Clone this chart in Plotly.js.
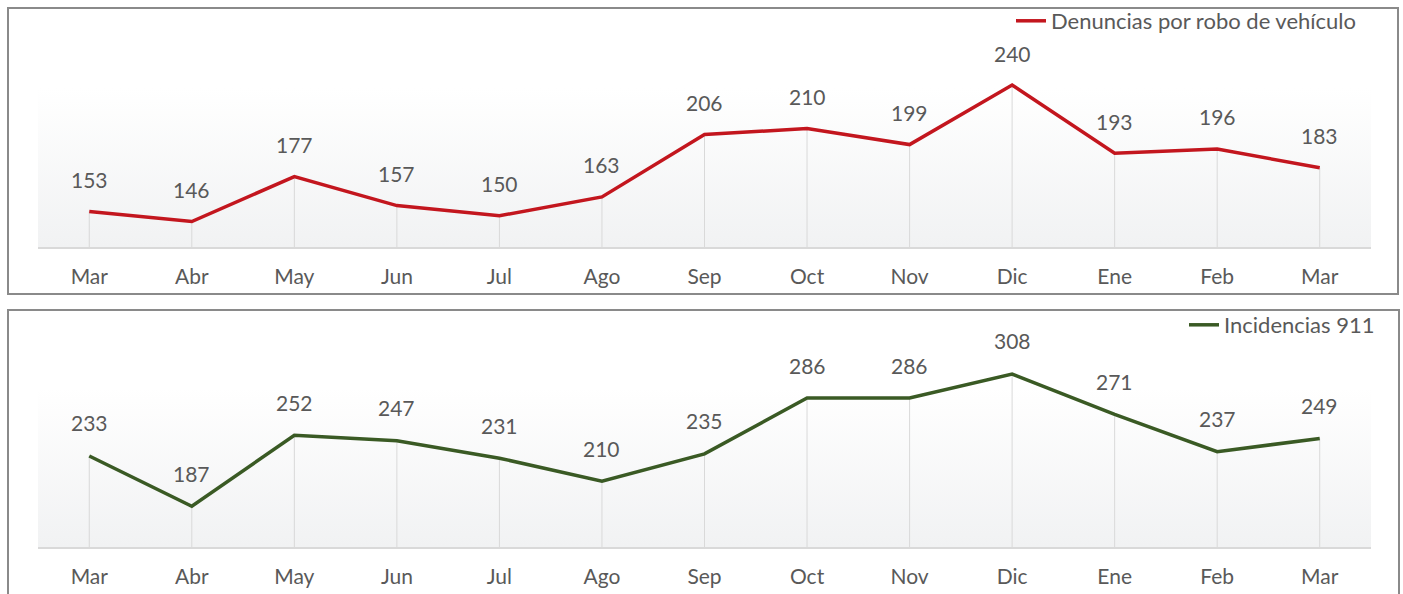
<!DOCTYPE html>
<html>
<head>
<meta charset="utf-8">
<script src="https://cdn.plot.ly/plotly-3.0.1.min.js"></script>
<style>html,body{margin:0;padding:0;background:#fff;}#chart{width:1403px;height:594px;}</style>
</head>
<body>
<div id="chart"></div>
<script>
const months = ['Mar','Abr','May','Jun','Jul','Ago','Sep','Oct','Nov','Dic','Ene','Feb','Mar'];
const denuncias = [153,146,177,157,150,163,206,210,199,240,193,196,183];
const incidencias = [233,187,252,247,231,210,235,286,286,308,271,237,249];
const seriesNames = ['Denuncias por robo de vehículo','Incidencias 911'];

const W = 1403, H = 594;
const px = v => v / W;
const py = v => 1 - v / H;

const FONT = 'Lato, "Open Sans", sans-serif';
const FS = 21;
const TXT = '#595959';
const idx = months.map((m, i) => i);

const topRange = [128.5, 271.0];
const botRange = [149.77, 339.1];

function dropLines(vals, base, xa, ya) {
  const x = [], y = [];
  vals.forEach((v, i) => { x.push(i, i, null); y.push(base, v, null); });
  return {x, y, xaxis: xa, yaxis: ya, mode: 'lines', line: {color: '#d9d9d9', width: 1},
    hoverinfo: 'skip', showlegend: false};
}

const traces = [
  dropLines(denuncias, topRange[0], 'x', 'y'),
  dropLines(incidencias, botRange[0], 'x2', 'y2'),
  {x: idx, y: denuncias, xaxis: 'x', yaxis: 'y', mode: 'lines', name: seriesNames[0],
   line: {color: '#C3161E', width: 3.5}, legend: 'legend'},
  {x: idx, y: incidencias, xaxis: 'x2', yaxis: 'y2', mode: 'lines', name: seriesNames[1],
   line: {color: '#3A5A24', width: 3.5}, legend: 'legend2'}
];

const annotations = [];
denuncias.forEach((v, i) => annotations.push({x: i, y: v, xref: 'x', yref: 'y', text: String(v),
  showarrow: false, yshift: 32, yanchor: 'middle', font: {family: FONT, size: FS, color: TXT}}));
incidencias.forEach((v, i) => annotations.push({x: i, y: v, xref: 'x2', yref: 'y2', text: String(v),
  showarrow: false, yshift: 33, yanchor: 'middle', font: {family: FONT, size: FS, color: TXT}}));

const gradSvg = "<svg xmlns='http://www.w3.org/2000/svg' width='100' height='100' preserveAspectRatio='none'><defs><linearGradient id='g' x1='0' y1='0' x2='0' y2='1'><stop offset='0' stop-color='#ffffff'/><stop offset='1' stop-color='#f1f2f3'/></linearGradient></defs><rect width='100' height='100' fill='url(#g)'/></svg>";
const gradSrc = 'data:image/svg+xml;base64,' + btoa(gradSvg);

const xDom = [px(38), px(1371)];
const yDomTop = [py(247), py(40)];
const yDomBot = [py(547), py(340)];
const gTop = [py(247), py(88)];
const gBot = [py(547), py(388)];

function xAxis(anchor) {
  return {domain: xDom, range: [-0.5, 12.5], anchor: anchor, tickvals: idx, ticktext: months,
    showgrid: false, zeroline: false, showline: true, linecolor: '#d9d9d9', linewidth: 1.5,
    ticks: '', ticklabelstandoff: 10, tickfont: {family: FONT, size: FS, color: TXT}, fixedrange: true};
}
function yAxis(anchor, dom, rng) {
  return {domain: dom, range: rng, anchor: anchor, visible: false, showgrid: false, zeroline: false, fixedrange: true};
}

const layout = {
  width: W, height: H,
  margin: {l: 0, r: 0, t: 0, b: 0},
  paper_bgcolor: '#ffffff', plot_bgcolor: 'rgba(0,0,0,0)',
  font: {family: FONT, color: TXT},
  xaxis: xAxis('y'), yaxis: yAxis('x', yDomTop, topRange),
  xaxis2: xAxis('y2'), yaxis2: yAxis('x2', yDomBot, botRange),
  images: [
    {source: gradSrc, xref: 'paper', yref: 'paper', x: xDom[0], y: gTop[1], sizex: xDom[1]-xDom[0], sizey: gTop[1]-gTop[0], sizing: 'stretch', layer: 'below', xanchor: 'left', yanchor: 'top'},
    {source: gradSrc, xref: 'paper', yref: 'paper', x: xDom[0], y: gBot[1], sizex: xDom[1]-xDom[0], sizey: gBot[1]-gBot[0], sizing: 'stretch', layer: 'below', xanchor: 'left', yanchor: 'top'}
  ],
  shapes: [
    {type: 'rect', xref: 'paper', yref: 'paper', x0: px(8), x1: px(1398), y0: py(294), y1: py(8), line: {color: '#8a8a8a', width: 2}, layer: 'above'},
    {type: 'rect', xref: 'paper', yref: 'paper', x0: px(8), x1: px(1399), y0: py(620), y1: py(310), line: {color: '#8a8a8a', width: 2}, layer: 'above'}
  ],
  annotations: annotations,
  legend: {x: px(1362), y: py(21), xanchor: 'right', yanchor: 'middle', bgcolor: 'rgba(0,0,0,0)',
    font: {family: FONT, size: 22, color: TXT}, itemwidth: 30},
  legend2: {x: px(1380), y: py(325), xanchor: 'right', yanchor: 'middle', bgcolor: 'rgba(0,0,0,0)',
    font: {family: FONT, size: 22, color: TXT}, itemwidth: 30},
  showlegend: true
};

Plotly.newPlot('chart', traces, layout, {displayModeBar: false, staticPlot: true});
</script>
</body>
</html>
